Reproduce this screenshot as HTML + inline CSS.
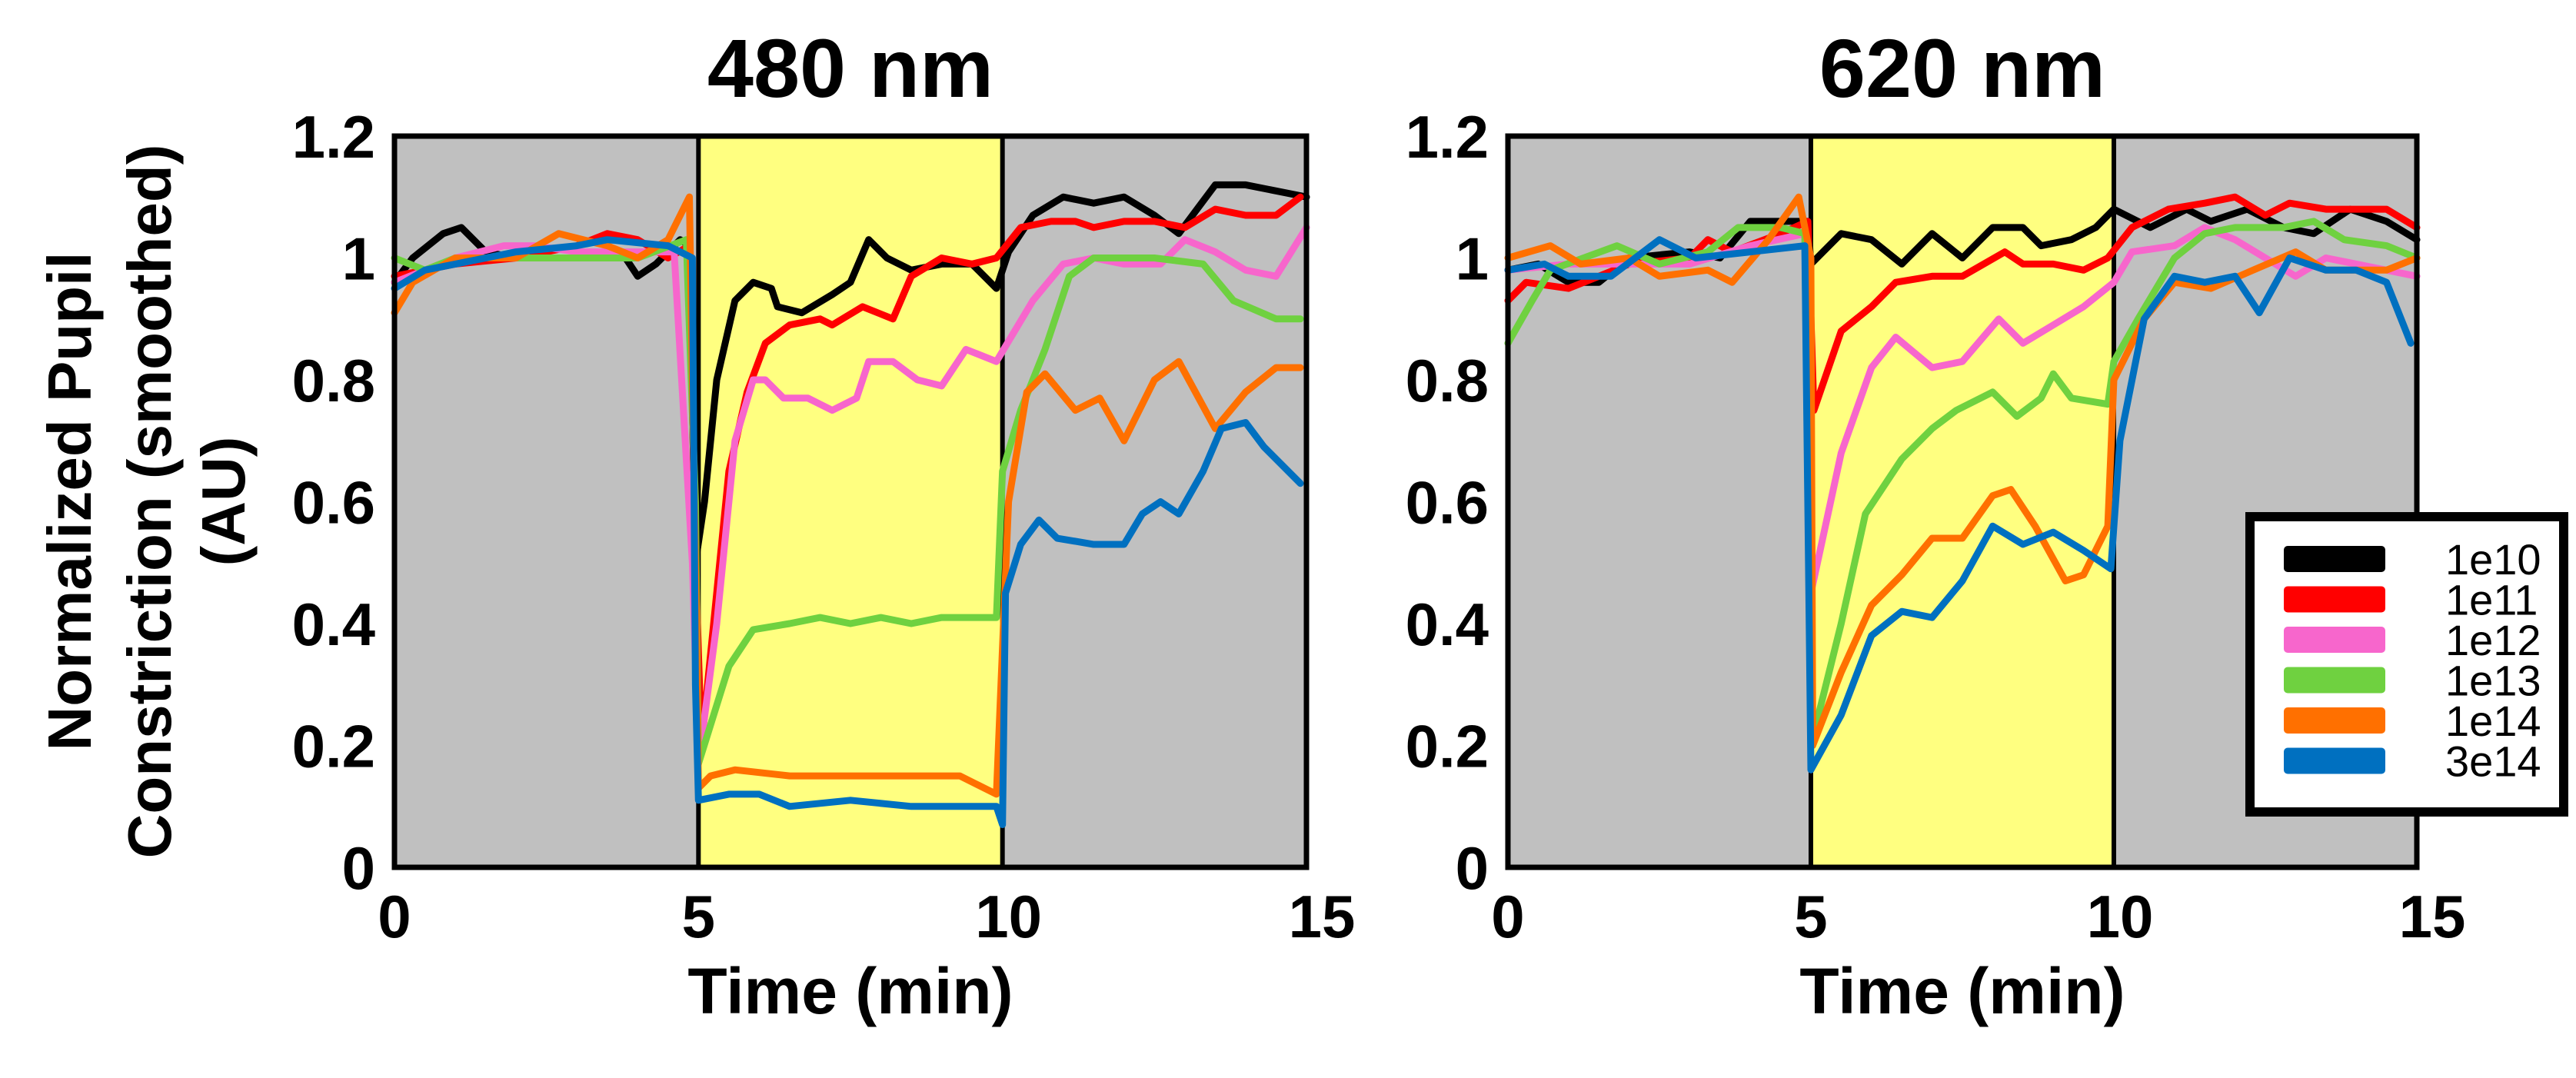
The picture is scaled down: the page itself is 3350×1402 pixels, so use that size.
<!DOCTYPE html>
<html><head><meta charset="utf-8"><style>
body{margin:0;background:#fff}
svg text{font-family:"Liberation Sans",Arial,sans-serif}
</style></head><body>
<svg id="fig" width="3350" height="1397" xmlns="http://www.w3.org/2000/svg">
<rect width="3350" height="1397" fill="#fff"/>
<g font-weight="bold" font-size="80" text-anchor="middle">
<text transform="translate(118,652) rotate(-90)">Normalized Pupil</text>
<text transform="translate(222,652) rotate(-90)">Constriction (smoothed)</text>
<text transform="translate(318,652) rotate(-90)">(AU)</text>
</g>
<g id="p1"></g>
<g id="p2"></g>
<g id="legend"></g>
</svg>
<script>
const NS="http://www.w3.org/2000/svg";
const seriesNames=["1e10","1e11","1e12","1e13","1e14","3e14"];
const seriesColors=["#000000","#ff0000","#f766cc","#6fd140","#ff7000","#0070c0"];
const xTicks=[0,5,10,15];
const yTicks=[0,0.2,0.4,0.6,0.8,1,1.2];
const yTickLabels=["0","0.2","0.4","0.6","0.8","1","1.2"];
// 480 nm
const b480_t=[0,0.3,0.8,1.1,1.5,2,3,3.8,4.0,4.3,4.7,4.85,4.95,5.1,5.3,5.6,5.9,6.2,6.3,6.7,7.2,7.5,7.8,8.1,8.5,9.0,9.5,9.9,10.1,10.5,11,11.5,12,12.5,12.9,13.2,13.5,14,14.5,15];
const b480_v=[0.96,1.0,1.04,1.05,1.01,1.0,1.0,1.0,0.97,0.99,1.03,1.02,0.5,0.6,0.8,0.93,0.96,0.95,0.92,0.91,0.94,0.96,1.03,1.0,0.98,0.99,0.99,0.95,1.01,1.07,1.1,1.09,1.1,1.07,1.04,1.08,1.12,1.12,1.11,1.1];
const r480_t=[0,1,2,3,3.5,4,4.5,4.85,4.95,5.05,5.2,5.5,5.8,6.1,6.5,7,7.2,7.7,8.2,8.5,9.0,9.5,9.9,10.3,10.8,11.2,11.5,12,12.5,13,13.5,14,14.5,14.9];
const r480_v=[0.97,0.99,1.0,1.02,1.04,1.03,1.0,1.02,0.5,0.2,0.35,0.65,0.78,0.86,0.89,0.9,0.89,0.92,0.9,0.97,1.0,0.99,1.0,1.05,1.06,1.06,1.05,1.06,1.06,1.05,1.08,1.07,1.07,1.1];
const k480_t=[0,1,1.8,2.3,3,4,4.6,4.9,5.0,5.3,5.6,5.9,6.1,6.4,6.8,7.2,7.6,7.8,8.2,8.6,9.0,9.4,9.9,10.5,11,11.5,12,12.6,13,13.5,14,14.5,15];
const k480_v=[0.96,1.0,1.02,1.02,1.01,1.01,1.01,0.5,0.17,0.4,0.7,0.8,0.8,0.77,0.77,0.75,0.77,0.83,0.83,0.8,0.79,0.85,0.83,0.93,0.99,1.0,0.99,0.99,1.03,1.01,0.98,0.97,1.05];
const g480_t=[0,0.5,1,2,3,4,4.8,4.95,5.0,5.5,5.9,6.5,7,7.5,8,8.5,9,9.5,9.9,10.0,10.3,10.7,11.1,11.5,12,12.5,13.3,13.8,14.5,14.9];
const g480_v=[1.0,0.98,1.0,1.0,1.0,1.0,1.03,0.6,0.17,0.33,0.39,0.4,0.41,0.4,0.41,0.4,0.41,0.41,0.41,0.65,0.75,0.85,0.97,1.0,1.0,1.0,0.99,0.93,0.9,0.9];
const o480_t=[0,0.3,1,2,2.7,3.5,4,4.5,4.85,4.95,5.0,5.2,5.6,6.5,7.5,8.5,9.3,9.9,10.1,10.4,10.7,11.2,11.6,12.0,12.5,12.9,13.5,14.0,14.5,14.9];
const o480_v=[0.91,0.96,1.0,1.0,1.04,1.02,1.0,1.03,1.1,0.5,0.13,0.15,0.16,0.15,0.15,0.15,0.15,0.12,0.6,0.78,0.81,0.75,0.77,0.7,0.8,0.83,0.72,0.78,0.82,0.82];
const u480_t=[0,0.5,1,2,3,3.5,4.5,4.9,4.95,5.0,5.5,6,6.5,7.5,8.5,9.5,9.9,10.0,10.05,10.3,10.6,10.9,11.5,12,12.3,12.6,12.9,13.3,13.6,14,14.3,14.9];
const u480_v=[0.95,0.98,0.99,1.01,1.02,1.03,1.02,1.0,0.3,0.11,0.12,0.12,0.1,0.11,0.1,0.1,0.1,0.07,0.45,0.53,0.57,0.54,0.53,0.53,0.58,0.6,0.58,0.65,0.72,0.73,0.69,0.63];
// 620 nm
const b620_t=[0,0.5,1,1.5,2,3,3.5,4,4.5,4.95,5.0,5.5,6,6.5,7,7.5,8,8.5,8.8,9.3,9.7,10,10.6,11.2,11.6,12.2,12.8,13.3,13.9,14.5,15];
const b620_v=[0.98,0.99,0.96,0.96,1.0,1.01,1.0,1.06,1.06,1.06,0.99,1.04,1.03,0.99,1.04,1.0,1.05,1.05,1.02,1.03,1.05,1.08,1.05,1.08,1.06,1.08,1.05,1.04,1.08,1.06,1.03];
const r620_t=[0,0.3,1,1.5,2,3,3.3,3.7,4.5,4.95,5.05,5.5,6,6.4,7,7.5,8.2,8.5,9.0,9.5,9.9,10.3,10.9,11.5,12,12.5,12.9,13.5,14,14.5,15];
const r620_v=[0.93,0.96,0.95,0.97,0.99,1.0,1.03,1.01,1.04,1.06,0.75,0.88,0.92,0.96,0.97,0.97,1.01,0.99,0.99,0.98,1.0,1.05,1.08,1.09,1.1,1.07,1.09,1.08,1.08,1.08,1.05];
const k620_t=[0,1,2,3,4,4.9,5.0,5.5,6.0,6.4,7.0,7.5,8.1,8.5,9.0,9.5,10.0,10.3,11,11.5,12,12.5,13,13.5,14,15];
const k620_v=[0.98,0.99,0.99,0.99,1.02,1.04,0.45,0.68,0.82,0.87,0.82,0.83,0.9,0.86,0.89,0.92,0.96,1.01,1.02,1.05,1.03,1.0,0.97,1.0,0.99,0.97];
const g620_t=[0,0.4,0.7,1.8,2.5,3.3,3.8,4.5,4.9,5.0,5.5,5.9,6.5,7,7.4,8.0,8.4,8.8,9.0,9.3,9.9,10.0,10.4,11,11.5,12,12.8,13.3,13.8,14.5,15];
const g620_v=[0.86,0.93,0.98,1.02,0.99,1.01,1.05,1.05,1.04,0.2,0.4,0.58,0.67,0.72,0.75,0.78,0.74,0.77,0.81,0.77,0.76,0.83,0.9,1.0,1.04,1.05,1.05,1.06,1.03,1.02,1.0];
const o620_t=[0,0.7,1.2,2,2.5,3.3,3.7,4.3,4.8,5.0,5.03,5.5,6,6.5,7.0,7.5,8.0,8.3,8.7,9.2,9.5,9.9,10.0,10.5,11,11.6,12.3,13,13.5,14,14.5,15];
const o620_v=[1.0,1.02,0.99,1.0,0.97,0.98,0.96,1.03,1.1,1.0,0.2,0.32,0.43,0.48,0.54,0.54,0.61,0.62,0.56,0.47,0.48,0.56,0.8,0.9,0.96,0.95,0.98,1.01,0.98,0.98,0.98,1.0];
const u620_t=[0,0.6,1,1.7,2.5,3.1,4,4.9,5.0,5.5,6.0,6.5,7.0,7.5,8.0,8.5,9.0,9.5,9.95,10.1,10.5,11,11.5,12,12.4,12.9,13.5,14,14.5,14.9];
const u620_v=[0.98,0.99,0.97,0.97,1.03,1.0,1.01,1.02,0.16,0.25,0.38,0.42,0.41,0.47,0.56,0.53,0.55,0.52,0.49,0.7,0.9,0.97,0.96,0.97,0.91,1.0,0.98,0.98,0.96,0.86];

const panels=[
 {g:"p1",title:"480 nm",L:513,R:1699,T:177,B:1128,data:[[b480_t,b480_v],[r480_t,r480_v],[k480_t,k480_v],[g480_t,g480_v],[o480_t,o480_v],[u480_t,u480_v]]},
 {g:"p2",title:"620 nm",L:1961,R:3143,T:177,B:1128,data:[[b620_t,b620_v],[r620_t,r620_v],[k620_t,k620_v],[g620_t,g620_v],[o620_t,o620_v],[u620_t,u620_v]]}
];
function mk(tag,attrs,parent){const e=document.createElementNS(NS,tag);for(const k in attrs)e.setAttribute(k,attrs[k]);parent.appendChild(e);return e;}
panels.forEach((p,pi)=>{
 const g=document.getElementById(p.g);
 const x=t=>p.L+(p.R-p.L)*t/15, y=v=>p.B-(p.B-p.T)*v/1.2;
 let e;
 e=mk("rect",{x:p.L,y:p.T,width:p.R-p.L,height:p.B-p.T,fill:"#c0c0c0"},g);
 
 
 e=mk("rect",{x:x(5),y:p.T,width:x(10)-x(5),height:p.B-p.T,fill:"#ffff80",stroke:"#000","stroke-width":6},g);
 
 
 p.data.forEach((d,i)=>{
  const pts=d[0].map((t,j)=>x(t).toFixed(1)+","+y(d[1][j]).toFixed(1)).join(" ");
  e=mk("polyline",{points:pts,fill:"none",stroke:seriesColors[i],"stroke-width":9,"stroke-linejoin":"round","stroke-linecap":"round"},g);
  
  
 });
 e=mk("rect",{x:p.L,y:p.T,width:p.R-p.L,height:p.B-p.T,fill:"none",stroke:"#000","stroke-width":7},g);
 
 
 e=mk("text",{x:(p.L+p.R)/2,y:126,"text-anchor":"middle","font-size":108,"font-weight":"bold"},g);
 e.textContent=p.title;
 
 
 yTicks.forEach((v,i)=>{
  e=mk("text",{x:p.L-25,y:y(v)+28,"text-anchor":"end","font-size":78,"font-weight":"bold"},g);
  e.textContent=yTickLabels[i];
  
  
 });
 xTicks.forEach(t=>{
  e=mk("text",{x:x(t)+(t===15?20:t===10?8:0),y:1219,"text-anchor":"middle","font-size":78,"font-weight":"bold"},g);
  e.textContent=t;
  
  
 });
 e=mk("text",{x:(p.L+p.R)/2,y:1318,"text-anchor":"middle","font-size":84,"font-weight":"bold"},g);
 e.textContent="Time (min)";
 
 
});
const lg=document.getElementById("legend");
let le=mk("rect",{x:2926,y:672,width:408,height:384,fill:"#fff",stroke:"#000","stroke-width":12},lg);


seriesNames.forEach((n,i)=>{
 const yy=727+i*52.5;
 let s=mk("rect",{x:2970,y:yy-17,width:132,height:34,rx:5,fill:seriesColors[i]},lg);
 
 
 let t=mk("text",{x:3180,y:yy+20,"font-size":56},lg);
 t.textContent=n;
 
 
});
</script>
</body></html>
